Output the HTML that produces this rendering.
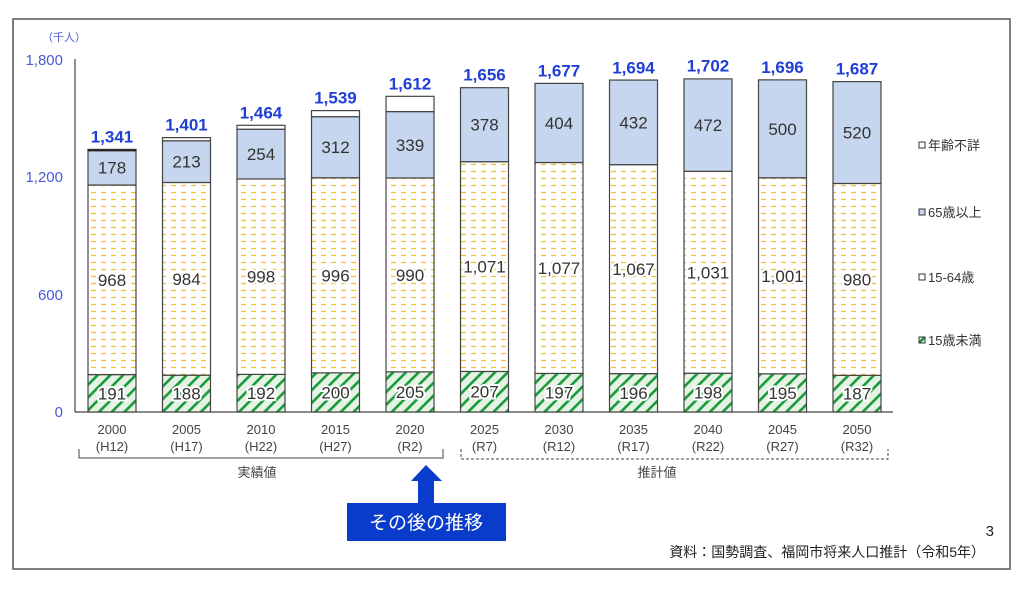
<!DOCTYPE html>
<html><head><meta charset="utf-8"><style>
html,body{margin:0;padding:0;background:#fff;}
svg{display:block;font-family:"Liberation Sans","Noto Sans CJK JP",sans-serif;}
</style></head><body>
<svg width="1024" height="592" viewBox="0 0 1024 592" xmlns="http://www.w3.org/2000/svg">
<defs>
<pattern id="dash" width="10" height="7" patternUnits="userSpaceOnUse">
<rect width="10" height="7" fill="#fff"/>
<line x1="1" y1="3.5" x2="6" y2="3.5" stroke="#f6c033" stroke-width="1.3"/>
</pattern>
<pattern id="diag" width="9" height="9" patternUnits="userSpaceOnUse" patternTransform="rotate(45)">
<rect width="9" height="9" fill="#e4f3e4"/>
<rect x="0" y="0" width="2.6" height="9" fill="#1a9a3a"/>
</pattern>
</defs>
<rect x="13" y="19" width="997" height="550" fill="none" stroke="#555" stroke-width="1.5"/>
<text x="42" y="41" font-size="11" fill="#4a5bd4">（千人）</text>
<g font-size="15" fill="#4a5bd4" text-anchor="end">
<text x="63" y="65">1,800</text>
<text x="63" y="182">1,200</text>
<text x="63" y="300">600</text>
<text x="63" y="417">0</text>
</g>
<line x1="75" y1="59" x2="75" y2="412" stroke="#444" stroke-width="1.2"/>
<line x1="75" y1="412" x2="893" y2="412" stroke="#444" stroke-width="1.2"/>
<g id="bars"></g>
<g font-size="13" fill="#444" text-anchor="middle" id="xl"></g>
<path d="M79 449 V458 H443 V449" fill="none" stroke="#444" stroke-width="1"/>
<path d="M461 449 V459 H888 V449" fill="none" stroke="#444" stroke-width="1" stroke-dasharray="3,2"/>
<text x="257" y="477" font-size="13" fill="#444" text-anchor="middle">実績値</text>
<text x="657" y="477" font-size="13" fill="#444" text-anchor="middle">推計値</text>
<path d="M426 465 L442 481 L434 481 L434 503 L418 503 L418 481 L411 481 Z" fill="#0a3ccc"/>
<rect x="347" y="503" width="159" height="38" fill="#0a3ccc"/>
<text x="426" y="529" font-size="19" fill="#fff" text-anchor="middle">その後の推移</text>
<g font-size="13" fill="#333">
<rect x="919" y="142" width="6" height="6" fill="#fff" stroke="#333" stroke-width="1"/><text x="928" y="150">年齢不詳</text>
<rect x="919" y="209" width="6" height="6" fill="#c5d6ee" stroke="#333" stroke-width="1"/><text x="928" y="217">65歳以上</text>
<rect x="919" y="274" width="6" height="6" fill="#fff" stroke="#333" stroke-width="1"/><text x="928" y="282">15-64歳</text>
<rect x="919" y="337" width="6" height="6" fill="url(#diag)" stroke="#333" stroke-width="1"/><text x="928" y="345">15歳未満</text>
</g>
<text x="994" y="536" font-size="15" fill="#222" text-anchor="end">3</text>
<text x="985" y="557" font-size="14" fill="#222" text-anchor="end">資料：国勢調査、福岡市将来人口推計（令和5年）</text>
<script>
var d=[[2000,"H12",191,968,178,4,1341],[2005,"H17",188,984,213,16,1401],[2010,"H22",192,998,254,20,1464],[2015,"H27",200,996,312,31,1539],[2020,"R2",205,990,339,78,1612],[2025,"R7",207,1071,378,0,1656],[2030,"R12",197,1077,404,0,1677],[2035,"R17",196,1067,432,0,1694],[2040,"R22",198,1031,472,0,1702],[2045,"R27",195,1001,500,0,1696],[2050,"R32",187,980,520,0,1687]];
var ns="http://www.w3.org/2000/svg",g=document.getElementById("bars"),xl=document.getElementById("xl");
function el(t,a,p,txt){var e=document.createElementNS(ns,t);for(var k in a)e.setAttribute(k,a[k]);if(txt!==undefined)e.textContent=txt;p.appendChild(e);return e;}
var s=117.5/600,z=412,w=48;
d.forEach(function(r,i){var cx=112+i*74.5,x=cx-w/2,y=z;
var fills=["url(#diag)","url(#dash)","#c5d6ee","#fff"];
for(var j=0;j<4;j++){var v=r[2+j];if(v<=0)continue;var h=v*s;y-=h;
el("rect",{x:x,y:y,width:w,height:h,fill:fills[j],stroke:"#444","stroke-width":1.2},g);
if(j<3){var ty=y+h/2+6;
var t=el("text",{x:cx,y:ty,"font-size":17,fill:"#333","text-anchor":"middle"},g,r[2+j].toLocaleString("en-US"));
if(j<2){t.setAttribute("stroke","#fff");t.setAttribute("stroke-width","4");t.setAttribute("paint-order","stroke");}}}
if(i==0)el("rect",{x:x,y:y,width:w,height:2,fill:"#222"},g);
el("text",{x:cx,y:z-r[6]*s-7,"font-size":17,"font-weight":"bold",fill:"#1f3fd6","text-anchor":"middle"},g,r[6].toLocaleString("en-US"));
el("text",{x:cx,y:434},xl,r[0]);el("text",{x:cx,y:451},xl,"("+r[1]+")");});
</script>
</svg>
</body></html>
